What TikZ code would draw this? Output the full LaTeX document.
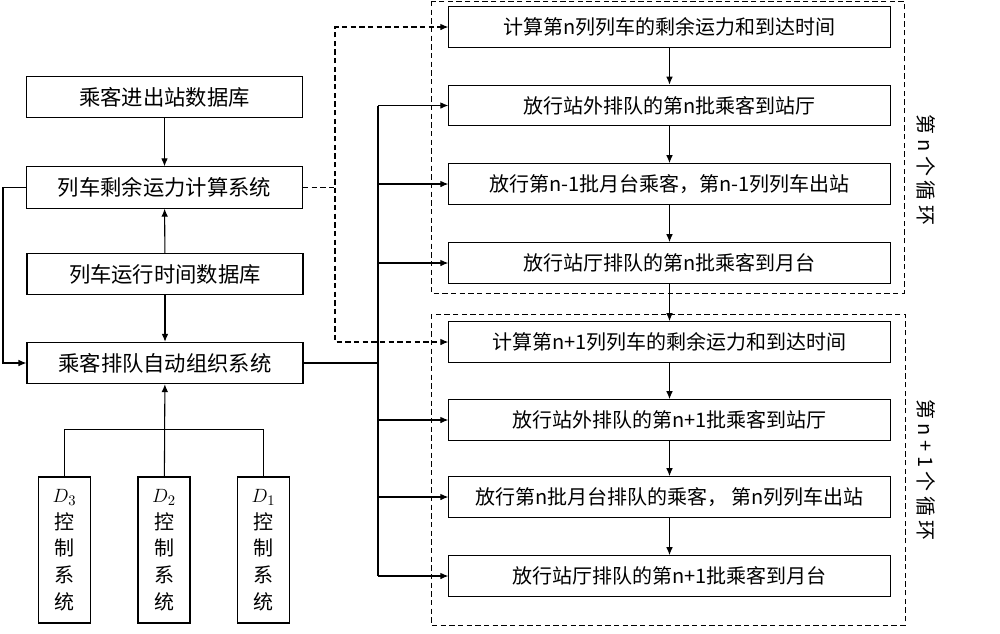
\documentclass[tikz,border=0pt]{standalone}
\usepackage{fontspec}
\newfontfamily\cjk{Noto Sans CJK SC}
\usetikzlibrary{arrows.meta}
\begin{document}
\begin{tikzpicture}[x=0.75pt,y=-0.75pt,line width=0.8pt,->,>={Latex[length=6pt,width=5pt]}]
    \tikzstyle{sysbox}=[draw,-,minimum width=207pt,minimum height=31pt,inner sep=0pt,font=\fontsize{16}{19}\selectfont\cjk]
    \tikzstyle{stepbox}=[draw,-,minimum width=331pt,minimum height=30.5pt,inner sep=0pt,font=\fontsize{15}{18}\selectfont\cjk]
    \tikzstyle{ctrlbox}=[draw,-,minimum width=39pt,minimum height=109.5pt,inner sep=0pt,align=center,font=\fontsize{15}{20}\selectfont\cjk]
    \tikzstyle{group}=[draw,-,dash pattern=on 4pt off 2.5pt,line width=0.7pt]
    \tikzstyle{loop label}=[rotate=-90,font=\fontsize{15}{18}\selectfont\cjk]
    \useasboundingbox (0,0) rectangle (1000,633);

    % left column
    \node[sysbox] (P) at (164.5,97) {乘客进出站数据库};
    \node[sysbox] (R) at (164.5,187.5) {列车剩余运力计算系统};
    \node[sysbox] (V) at (165,274) {列车运行时间数据库};
    \node[sysbox] (Q) at (165,363) {乘客排队自动组织系统};

    \foreach \i/\x in {3/64.5,2/164,1/263.5}
    \node[ctrlbox] (D-\i) at (\x,550) {$D_\i$\\控\\制\\系\\统};

    % loops
    \draw[group] (431,1) rectangle (904,293);
    \draw[group] (431,314) rectangle (905,625);
    \node[loop label] (L-1) at (926,170) {第 n 个 循 环};
    \node[loop label] (L-2) at (926,470) {第 n + 1 个 循 环};

    \foreach \i/\y/\t in {1/27/计算第n列列车的剩余运力和到达时间,
                          2/105.5/放行站外排队的第n批乘客到站厅,
                          3/184/放行第n-1批月台乘客，第n-1列列车出站,
                          4/263/放行站厅排队的第n批乘客到月台}
    \node[stepbox] (T-\i) at (669.5,\y) {\t};

    \foreach \i/\y/\t in {1/342/计算第n+1列列车的剩余运力和到达时间,
                          2/420/放行站外排队的第n+1批乘客到站厅,
                          3/497/放行第n批月台排队的乘客， 第n列列车出站,
                          4/576/放行站厅排队的第n+1批乘客到月台}
    \node[stepbox] (U-\i) at (669.5,\y) {\t};

    % connectors
    \draw (P) -- (R);
    \draw (V) -- (R);
    \draw (V) -- (Q);
    \draw (D-2) -- (Q);
    \draw[-] (D-3.north) -- ++(0,-47) -| (D-1.north);

    \coordinate (back) at (3,0);
    \draw (R.west) -- (back |- R.west) -- (back |- Q.west) -- (Q.west);

    \coordinate (fork) at (335,0);
    \draw[dash pattern=on 4pt off 2.5pt] (R.east) -- (fork |- R.east) -- (fork |- T-1.west) -- (T-1.west);
    \draw[dash pattern=on 4pt off 2.5pt] (fork |- R.east) -- (fork |- U-1.west) -- (U-1.west);

    \coordinate (bus) at (378,0);
    \draw[-] (Q.east) -- (bus |- Q.east);
    \draw[-] (bus |- T-2.west) -- (bus |- U-4.west);
    \foreach \i in {2,3,4}
    \draw (bus |- T-\i.west) -- (T-\i.west);
    \foreach \i in {2,3,4}
    \draw (bus |- U-\i.west) -- (U-\i.west);

    \foreach \i/\j in {1/2,2/3,3/4}
    \path (T-\i) edge (T-\j)
          (U-\i) edge (U-\j);
    \draw (T-4) -- (U-1);
  \end{tikzpicture}
\end{document}
